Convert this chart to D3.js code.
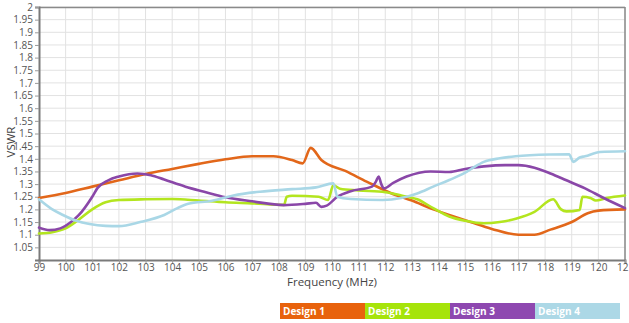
<!DOCTYPE html>
<html><head><meta charset="utf-8">
<script src="https://cdn.jsdelivr.net/npm/d3@7"></script>
<style>
html,body{margin:0;padding:0;background:#fff;}
svg{display:block;font-family:"Open Sans","DejaVu Sans",sans-serif;}
</style></head>
<body><svg id="c" width="629" height="323"></svg>
<script>
const xTicks = d3.range(99, 122, 1);
const yTicks = d3.range(1.05, 2.0001, 0.05).map(v => +v.toFixed(2));
const seriesNames = ["Design 1", "Design 2", "Design 3", "Design 4"];
const seriesColors = ["#e2671a", "#b3e51f", "#8a47a8", "#a9d7e6"];
const legendColors = ["#e8620c", "#a6e40a", "#8e48b0", "#acd8e6"];

const design1Freq = [99,100,101,102,103,104,105,106,107,107.8,108.5,108.9,109.2,109.6,110.5,111.3,112.2,113,113.8,114.4,115.2,116,117,117.6,118.2,119,119.6,120,121];
const design1VSWR = [1.245,1.265,1.29,1.315,1.34,1.36,1.38,1.398,1.41,1.41,1.395,1.382,1.443,1.395,1.352,1.31,1.265,1.235,1.2,1.178,1.15,1.123,1.1,1.1,1.12,1.15,1.185,1.195,1.2];

const design2Freq = [99,99.5,100,100.5,101,101.5,102,103,104,105,106,107,108.2,108.3,108.5,109.5,109.85,110.05,110.3,111,112,112.6,113.2,113.8,114.4,115,115.7,116.3,116.9,117.6,118.3,118.6,118.8,119.3,119.4,119.7,119.9,120.3,121];
const design2VSWR = [1.105,1.11,1.125,1.16,1.2,1.228,1.237,1.24,1.241,1.235,1.228,1.224,1.218,1.25,1.254,1.25,1.237,1.295,1.282,1.275,1.268,1.255,1.24,1.205,1.172,1.155,1.145,1.15,1.163,1.19,1.24,1.2,1.192,1.198,1.25,1.245,1.235,1.245,1.255];

const design3Freq = [99,99.4,99.8,100.2,100.5,101,101.2,101.6,102,102.7,103.2,103.7,104.5,105.2,106,107,108.2,109,109.4,109.6,109.8,110.2,110.7,111.5,111.65,111.75,111.85,111.95,112.3,112.8,113.7,114.4,115,115.7,116.5,117,117.6,118.2,118.8,119.5,120.2,121];
const design3VSWR = [1.128,1.118,1.125,1.15,1.178,1.25,1.285,1.315,1.33,1.342,1.335,1.318,1.29,1.27,1.248,1.232,1.217,1.222,1.226,1.21,1.215,1.25,1.272,1.29,1.31,1.33,1.3,1.283,1.305,1.33,1.35,1.348,1.36,1.37,1.375,1.375,1.365,1.342,1.315,1.283,1.245,1.205];

const design4Freq = [99,99.5,99.9,100.4,100.9,101.5,102,102.8,103.7,104.2,104.6,105.5,106.3,107.3,108.5,109.4,110.05,110.2,110.7,111.9,112.6,113.2,113.8,114.4,115,115.3,115.7,116.3,116.9,118.2,118.9,119.06,119.3,119.5,120.06,121];
const design4VSWR = [1.24,1.2,1.178,1.155,1.142,1.135,1.134,1.15,1.178,1.205,1.222,1.234,1.255,1.27,1.28,1.287,1.303,1.25,1.241,1.237,1.245,1.263,1.29,1.316,1.345,1.365,1.388,1.402,1.41,1.417,1.418,1.388,1.405,1.41,1.427,1.43];

const seriesFreq = [design1Freq, design2Freq, design3Freq, design4Freq];
const seriesVSWR = [design1VSWR, design2VSWR, design3VSWR, design4VSWR];

const svg = d3.select("#c");
const L = 39, R = 625, T = 7, B = 260;
const x = d3.scaleLinear().domain([99, 121]).range([L, R]);
const y = d3.scaleLinear().domain([1, 2]).range([B, T]);

// grid
const g = svg.append("g");
g.selectAll("line.vg").data(xTicks.slice(1)).join("line")
  .attr("x1", d => x(d)).attr("x2", d => x(d)).attr("y1", T).attr("y2", B)
  .attr("stroke", "#e2e2e2").attr("stroke-width", 1);
g.selectAll("line.hg").data(yTicks).join("line")
  .attr("x1", L).attr("x2", R).attr("y1", d => y(d)).attr("y2", d => y(d))
  .attr("stroke", "#e2e2e2").attr("stroke-width", 1);

// frame top/right
svg.append("line").attr("x1", L).attr("x2", R).attr("y1", T + 0.5).attr("y2", T + 0.5).attr("stroke", "#8a8a8a").attr("stroke-width", 1.5);
svg.append("line").attr("x1", R).attr("x2", R).attr("y1", T).attr("y2", B).attr("stroke", "#8a8a8a").attr("stroke-width", 1.5);

// axes
const xAxis = d3.axisBottom(x).tickValues(xTicks).tickSize(4).tickFormat(d3.format("d"));
const yAxis = d3.axisLeft(y).tickValues(yTicks).tickSize(4).tickFormat(d => String(+d.toFixed(2)));
const gx = svg.append("g").attr("transform", `translate(0,${B})`).call(xAxis);
const gy = svg.append("g").attr("transform", `translate(${L},0)`).call(yAxis);
[gx, gy].forEach(a => {
  a.select(".domain").attr("stroke", "#7a7a7a").attr("stroke-width", 2);
  a.selectAll(".tick line").attr("stroke", "#9a9a9a");
  a.selectAll(".tick text").attr("fill", "#555").attr("font-size", 10)
    .attr("font-family", '"Open Sans","DejaVu Sans",sans-serif');
});
gx.selectAll(".tick text").attr("y", 11).attr("dy", 0);
gy.selectAll(".tick text").attr("dx", "1px");

// lines
const line = d3.line().x(d => x(d[0])).y(d => y(d[1])).curve(d3.curveMonotoneX);
seriesNames.forEach((n, i) => {
  const pts = seriesFreq[i].map((f, j) => [f, seriesVSWR[i][j]]);
  svg.append("path").datum(pts).attr("d", line)
    .attr("fill", "none").attr("stroke", seriesColors[i]).attr("stroke-width", 2.6)
    .attr("stroke-linejoin", "round").attr("stroke-linecap", "round");
});

// axis titles
svg.append("text").attr("x", 332).attr("y", 286).attr("text-anchor", "middle")
  .attr("font-size", 11.5).attr("fill", "#444").text("Frequency (MHz)");
svg.append("text").attr("transform", "translate(15,142) rotate(-90)").attr("text-anchor", "middle")
  .attr("font-size", 11.5).attr("fill", "#444").text("VSWR");

// legend
const lx = d3.scaleBand().domain(seriesNames).range([280, 620]);
const lg = svg.append("g");
lg.selectAll("rect").data(seriesNames).join("rect")
  .attr("x", d => lx(d)).attr("y", 303).attr("width", lx.bandwidth()).attr("height", 16)
  .attr("fill", (d, i) => legendColors[i]);
lg.selectAll("text").data(seriesNames).join("text")
  .attr("x", d => lx(d) + 3).attr("y", 315).attr("font-size", 10).attr("font-weight", "bold")
  .attr("fill", "#fff").text(d => d);
</script></body></html>
